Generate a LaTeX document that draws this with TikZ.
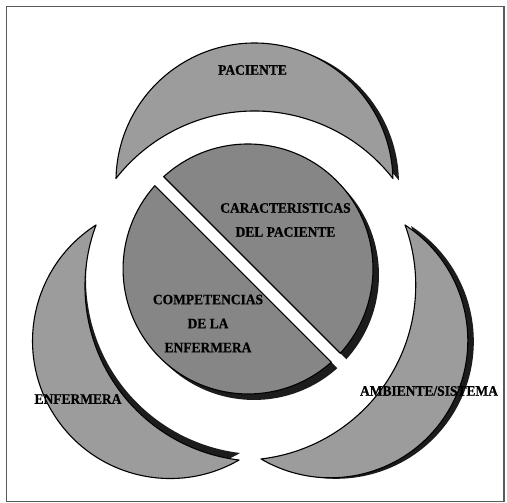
\documentclass[tikz,border=0pt]{standalone}
\usepackage{fontspec}
\setmainfont{Liberation Serif}
\newfontfamily\lblfont{Liberation Serif Bold}[FakeStretch=0.93,FakeBold=0.6]
\definecolor{cfill}{RGB}{134,134,134}
\definecolor{lfill}{RGB}{156,156,156}
\definecolor{shd}{RGB}{28,28,28}
\definecolor{frame}{RGB}{90,90,90}
\begin{document}
\begin{tikzpicture}[x=1pt,y=-1pt,
  part/.style={draw=black, line width=1.1pt, line join=round},
  crescent/.style={part, fill=lfill},
  half/.style={part, fill=cfill},
  shadefill/.style={fill=shd},
  lbl/.style={font=\lblfont\fontsize{14.5}{24}\selectfont, align=center, inner sep=0pt}]
\useasboundingbox (0,0) rectangle (507,503);
\draw[frame, line width=1.2pt] (6.5,6.5) rectangle (504,501.5);

% crescent shadows
\begin{scope}
  \clip (300,0) rectangle (507,503);
  \fill[shadefill, shift={(6,2)}] (116,178.5) arc[start angle=181.24, end angle=358.76, radius=138.5]
     arc[start angle=321.98, end angle=218.02, radius=175.8] -- cycle;
\end{scope}
\begin{scope}
  \clip (260.05,286.2) circle[radius=175.05];
  \fill[shadefill, shift={(1,-7)}] (96,225) arc[start angle=237.4, end angle=59.95, radius=137.6]
     arc[start angle=96.89, end angle=200.46, radius=175.05] -- cycle;
\end{scope}
\fill[shadefill, shift={(6,1)}] (405,225) arc[start angle=302.88, end angle=480.33, radius=137.4]
     arc[start angle=83.37, end angle=-20.16, radius=174.9] -- cycle;

% crescents
\draw[crescent] (116,178.5) arc[start angle=181.24, end angle=358.76, radius=138.5]
     arc[start angle=321.98, end angle=218.02, radius=175.8] -- cycle;
\draw[crescent] (96,225) arc[start angle=237.4, end angle=59.95, radius=137.6]
     arc[start angle=96.89, end angle=200.46, radius=175.05] -- cycle;
\draw[crescent] (405,225) arc[start angle=302.88, end angle=480.33, radius=137.4]
     arc[start angle=83.37, end angle=-20.16, radius=174.9] -- cycle;

% central halves: shadows then fills
\fill[shadefill, shift={(6,6)}] (163.7,176.7) arc[start angle=227.59, end angle=402.41, radius=125] -- cycle;
\fill[shadefill, shift={(6,6)}] (331.3,362.2) arc[start angle=48.24, end angle=221.76, radius=125] -- cycle;
\draw[half] (163.7,176.7) arc[start angle=227.59, end angle=402.41, radius=125] -- cycle;
\draw[half] (331.3,362.2) arc[start angle=48.24, end angle=221.76, radius=125] -- cycle;

% labels
\node[lbl] (pac) at (252.5,70) {PACIENTE};
\node[lbl] (car) at (285.5,220) {CARACTERISTICAS\\DEL PACIENTE};
\node[lbl] (comp) at (208,323.5) {COMPETENCIAS\\DE LA\\ENFERMERA};
\node[lbl] (enf) at (78,399) {ENFERMERA};
\node[lbl] (amb) at (429,391) {AMBIENTE/SISTEMA};
\end{tikzpicture}
\end{document}
